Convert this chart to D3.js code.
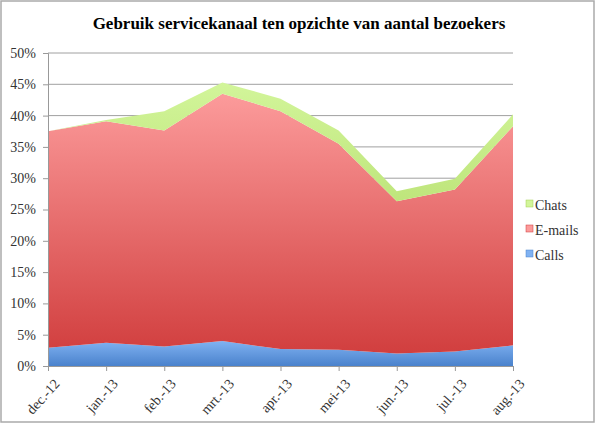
<!DOCTYPE html>
<html lang="nl">
<head>
  <meta charset="UTF-8">
  <title>Gebruik servicekanaal</title>
  <script src="https://cdn.jsdelivr.net/npm/d3@7"></script>
  <style>
    body { margin: 0; background: #fff; }
    .axis path, .axis line { stroke: #999; }
  </style>
</head>
<body>
  <script>
    const months = ["dec.-12", "jan.-13", "feb.-13", "mrt.-13", "apr.-13", "mei-13", "jun.-13", "jul.-13", "aug.-13"];
    const calls  = [2.9, 3.7, 3.1, 4.0, 2.7, 2.6, 2.0, 2.3, 3.3];
    const emails = [34.6, 35.4, 34.5, 39.5, 38.0, 32.9, 24.3, 25.9, 35.0];
    const chats  = [0.0, 0.2, 3.1, 1.8, 2.0, 2.1, 1.6, 1.7, 1.9];
    const series = ["Calls", "E-mails", "Chats"];
    const yTicks = [0, 5, 10, 15, 20, 25, 30, 35, 40, 45, 50];

    const W = 595, H = 424;
    const m = {top: 53, right: 82, bottom: 58, left: 48};
    const serif = '"Liberation Serif", "DejaVu Serif", serif';

    const rows = months.map((mo, i) => ({month: mo, "Calls": calls[i], "E-mails": emails[i], "Chats": chats[i]}));
    const stacked = d3.stack().keys(series)(rows);

    const x = d3.scalePoint().domain(months).range([m.left, W - m.right]);
    const y = d3.scaleLinear().domain([0, 50]).range([H - m.bottom, m.top]);

    const svg = d3.select("body").append("svg")
      .attr("width", W).attr("height", H)
      .style("font-family", serif);

    const defs = svg.append("defs");
    const grads = {
      "Calls":   ["#80b2f2", "#4a82cc"],
      "E-mails": ["#fc9b9b", "#cf3a3a"],
      "Chats":   ["#d2f59a", "#a4cf52"]
    };
    series.forEach((k, i) => {
      const g = defs.append("linearGradient")
        .attr("id", "g" + i)
        .attr("gradientUnits", "userSpaceOnUse")
        .attr("x1", 0).attr("x2", 0)
        .attr("y1", y(d3.max(stacked[i], d => d[1])))
        .attr("y2", y(0));
      g.append("stop").attr("offset", 0).attr("stop-color", grads[k][0]);
      g.append("stop").attr("offset", 1).attr("stop-color", grads[k][1]);
    });

    svg.append("rect")
      .attr("x", 1).attr("y", 1)
      .attr("width", W - 2).attr("height", H - 3)
      .attr("fill", "#fff").attr("stroke", "#aaa").attr("stroke-width", 1.5);

    svg.append("text")
      .attr("x", 299).attr("y", 29)
      .attr("text-anchor", "middle")
      .attr("font-family", serif)
      .style("font-size", "17px").style("font-weight", "bold").style("fill", "#000")
      .text("Gebruik servicekanaal ten opzichte van aantal bezoekers");

    // gridlines
    svg.append("g")
      .selectAll("line")
      .data(yTicks.slice(1))
      .enter().append("line")
      .attr("x1", m.left).attr("x2", W - m.right)
      .attr("y1", d => y(d)).attr("y2", d => y(d))
      .attr("stroke", "#a0a0a0");

    const area = d3.area()
      .x(d => x(d.data.month))
      .y0(d => y(d[0]))
      .y1(d => y(d[1]));

    svg.append("g")
      .selectAll("path")
      .data(stacked)
      .enter().append("path")
      .attr("d", area)
      .attr("fill", (d, i) => `url(#g${i})`);

    const yAxis = d3.axisLeft(y)
      .tickValues(yTicks)
      .tickSize(5)
      .tickPadding(7)
      .tickFormat(d => d + "%");
    const gy = svg.append("g")
      .attr("class", "axis")
      .attr("transform", `translate(${m.left},0)`)
      .call(yAxis)
      .attr("font-family", serif)
      .attr("font-size", 14);
    gy.selectAll("text").attr("fill", "#333");

    const xAxis = d3.axisBottom(x).tickSize(5).tickSizeOuter(0);
    const gx = svg.append("g")
      .attr("class", "axis")
      .attr("transform", `translate(0,${H - m.bottom})`)
      .call(xAxis)
      .attr("font-family", serif)
      .attr("font-size", 14);
    gx.selectAll("text")
      .attr("fill", "#333")
      .attr("text-anchor", "end")
      .attr("dx", 0).attr("dy", 0)
      .attr("transform", "translate(6,13) rotate(-48)");

    // legend
    const legend = svg.append("g")
      .selectAll("g")
      .data(series.slice().reverse())
      .enter().append("g")
      .attr("transform", (d, i) => `translate(526,${205 + i * 25})`);
    legend.append("rect")
      .attr("x", 0).attr("y", -5)
      .attr("width", 7).attr("height", 7)
      .attr("fill", d => grads[d][0])
      .attr("stroke", d => grads[d][1]).attr("stroke-width", 0.5);
    legend.append("text")
      .attr("x", 9).attr("y", 0)
      .attr("dy", "0.35em")
      .attr("font-family", serif)
      .attr("fill", "#333")
      .style("font-size", "14px")
      .text(d => d);
  </script>
</body>
</html>
